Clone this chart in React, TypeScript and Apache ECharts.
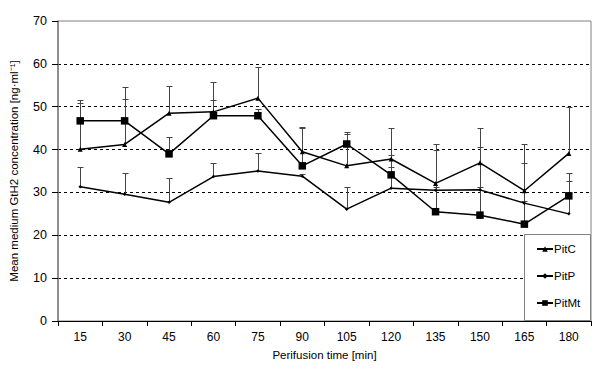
import React, { useEffect, useRef } from "react";
import * as echarts from "echarts";

const categories = ["15", "30", "45", "60", "75", "90", "105", "120", "135", "150", "165", "180"];
const pitC = [40.1, 41.2, 48.5, 48.8, 52.0, 39.5, 36.2, 37.8, 32.1, 36.9, 30.4, 39.1];
const pitP = [31.3, 29.6, 27.7, 33.7, 35.0, 33.8, 26.1, 31.0, 30.5, 30.6, 27.5, 25.0];
const pitMt = [46.7, 46.7, 39.0, 47.9, 47.9, 36.2, 41.3, 34.1, 25.5, 24.7, 22.6, 29.2];
// upper ends of the error bars
const pitCUpper = [51.5, 51.7, 54.8, 55.8, 59.3, 45.0, 44.2, 45.0, 41.2, 45.0, 41.3, 49.9];
const pitPUpper = [35.9, 34.6, 33.3, 36.8, 39.1, 34.3, 31.3, 38.8, 31.2, 31.2, 36.8, 32.7];
const pitMtUpper = [50.8, 54.5, 42.9, 51.6, 49.4, 45.2, 43.6, 36.0, 40.0, 40.7, 28.0, 34.6];
const yTicks = { min: 0, max: 70, interval: 10 };

const FONT = "Arial, 'Liberation Sans', sans-serif";

function errSeries(name: string, vals: number[], upper: number[]) {
  return {
    type: "custom",
    name: name + "-err",
    silent: true,
    z: 1,
    data: vals.map((v, i) => [i, v, upper[i]]),
    renderItem: (params: any, api: any) => {
      const p0 = api.coord([api.value(0), api.value(1)]);
      const p1 = api.coord([api.value(0), api.value(2)]);
      const x = Math.round(p0[0]) + 0.5;
      const y1 = Math.round(p1[1]) + 0.5;
      return {
        type: "group",
        children: [
          { type: "line", shape: { x1: x, y1: p0[1], x2: x, y2: y1 }, style: { stroke: "#444", lineWidth: 1 } },
          { type: "line", shape: { x1: x - 3, y1: y1, x2: x + 3, y2: y1 }, style: { stroke: "#444", lineWidth: 1 } },
        ],
      };
    },
  };
}

export default function App() {
  const ref = useRef<HTMLDivElement>(null);
  useEffect(() => {
    if (!ref.current) return;
    const chart = echarts.init(ref.current, null, { renderer: "svg" });
    const lineCommon = {
      type: "line",
      z: 3,
      lineStyle: { color: "#000", width: 1.5 },
      itemStyle: { color: "#000" },
      emphasis: { disabled: true },
    };
    chart.setOption({
      animation: false,
      backgroundColor: "#fff",
      textStyle: { fontFamily: FONT },
      grid: { left: 54, right: 9, top: 21, bottom: 53, show: true, borderColor: "#808080", borderWidth: 1 },
      xAxis: {
        type: "category",
        data: categories,
        boundaryGap: true,
        name: "Perifusion time [min]",
        nameLocation: "middle",
        nameGap: 28,
        nameTextStyle: { fontSize: 11.5, color: "#000", fontFamily: FONT },
        axisLine: { lineStyle: { color: "#000", width: 1 } },
        axisTick: { show: true, length: 5, alignWithLabel: false, lineStyle: { color: "#000" } },
        axisLabel: { fontSize: 12, color: "#000", margin: 10, fontFamily: FONT },
        splitLine: { show: false },
      },
      yAxis: {
        type: "value",
        min: yTicks.min,
        max: yTicks.max,
        interval: yTicks.interval,
        name: "Mean medium GtH2 concentration [ng·ml⁻¹]",
        nameLocation: "middle",
        nameGap: 38,
        nameTextStyle: { fontSize: 11.5, color: "#000", fontFamily: FONT },
        axisLine: { show: true, lineStyle: { color: "#808080", width: 1.5 } },
        axisTick: { show: true, length: 6, lineStyle: { color: "#000" } },
        axisLabel: { fontSize: 12.5, color: "#000", margin: 11, fontFamily: FONT },
        splitLine: { show: true, showMinLine: false, showMaxLine: false, lineStyle: { color: "#000", type: [3, 3], width: 1 } },
      },
      legend: {
        orient: "vertical",
        left: 536,
        top: 243,
        padding: 0,
        itemGap: 15,
        itemWidth: 16,
        itemHeight: 7,
        z: 20,
        textStyle: { fontSize: 11.5, color: "#000", fontFamily: FONT, padding: [0, 0, 0, -4] },
        data: ["PitC", "PitP", "PitMt"],
      },
      graphic: [
        {
          type: "rect",
          z: 15,
          shape: { x: 524.5, y: 234.5, width: 66, height: 86 },
          style: { fill: "#fff", stroke: "#808080", lineWidth: 1 },
        },
      ],
      series: [
        errSeries("PitC", pitC, pitCUpper),
        errSeries("PitP", pitP, pitPUpper),
        errSeries("PitMt", pitMt, pitMtUpper),
        { ...lineCommon, name: "PitC", data: pitC, symbol: "triangle", symbolSize: 5 },
        { ...lineCommon, name: "PitP", data: pitP, symbol: "diamond", symbolSize: 3.5 },
        { ...lineCommon, name: "PitMt", data: pitMt, symbol: "rect", symbolSize: 7.5 },
      ],
    });
    return () => chart.dispose();
  }, []);
  return <div ref={ref} style={{ width: 600, height: 374, position: "absolute", left: 0, top: 0 }} />;
}
